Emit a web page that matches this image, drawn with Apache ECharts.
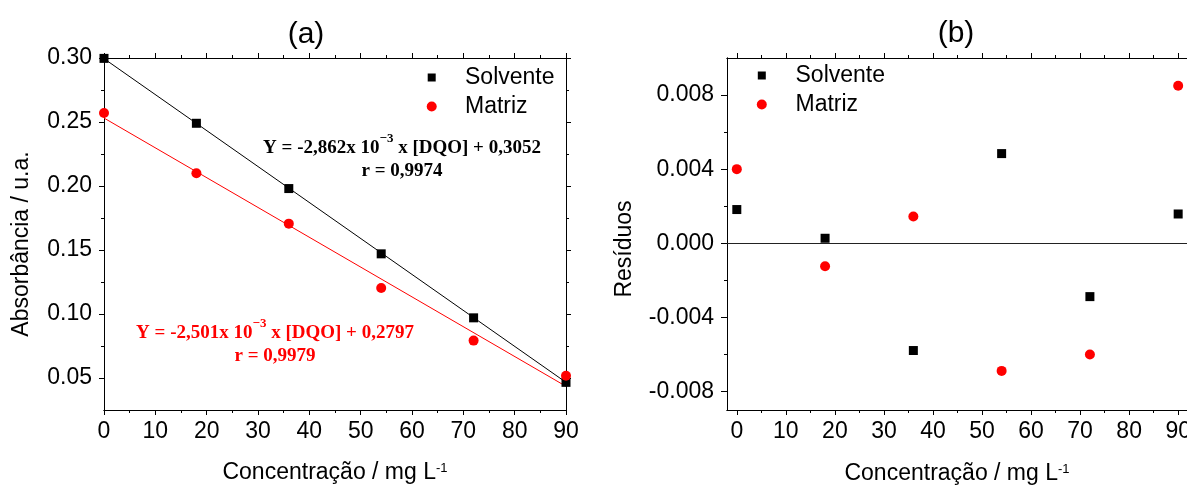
<!DOCTYPE html>
<html>
<head>
<meta charset="utf-8">
<script src="https://cdn.jsdelivr.net/npm/echarts@6/dist/echarts.min.js"></script>
<style>html,body{margin:0;padding:0;background:#fff}#c{width:1187px;height:488px}</style>
</head>
<body>
<div id="c"></div>
<script>
// ---- data ----
const concentracao = [0, 18, 36, 54, 72, 90];
const absSolvente = [0.2997, 0.249, 0.198, 0.147, 0.097, 0.0466];
const absMatriz = [0.257, 0.210, 0.1706, 0.1203, 0.0792, 0.0518];
const ajusteX = [0, 90];
const ajusteSolvente = [0.2995, 0.0466];
const ajusteMatriz = [0.2531, 0.0435];
const resSolvente = [0.00182, 0.00027, -0.00579, 0.00484, -0.00288, 0.00158];
const resMatriz = [0.0040, -0.00124, 0.00144, -0.00689, -0.0060, 0.0085];

// ---- ticks ----
const concTicks = [0, 10, 20, 30, 40, 50, 60, 70, 80, 90];
const concMinor = [5, 15, 25, 35, 45, 55, 65, 75, 85];
const absTicks = [0.05, 0.10, 0.15, 0.20, 0.25, 0.30];
const absMinor = [0.075, 0.125, 0.175, 0.225, 0.275];
const resTicks = [-0.008, -0.004, 0, 0.004, 0.008];
const resMinor = [-0.006, -0.002, 0.002, 0.006];

const eqSolvente = ['Y = -2,862x 10', '−3', ' x [DQO] + 0,3052', 'r = 0,9974'];
const eqMatriz = ['Y = -2,501x 10', '−3', ' x [DQO] + 0,2797', 'r = 0,9979'];

const SANS = "'Liberation Sans', Arial, Helvetica, sans-serif";
const SERIF = "'Liberation Serif', 'Times New Roman', serif";
const RED = '#ff0000';

function pairs(xs, ys) { return xs.map((x, i) => [x, ys[i]]); }

function axis(gridIndex, position, min, max, ticks, len, fmt, margin) {
  return {
    type: 'value', gridIndex, position, min, max,
    axisLine: { show: true, onZero: false, lineStyle: { color: '#000', width: 1 } },
    axisTick: { show: true, inside: false, length: len, customValues: ticks, lineStyle: { color: '#000', width: 1 } },
    axisLabel: fmt ? { show: true, customValues: ticks, formatter: fmt, fontSize: 23, fontFamily: SANS, color: '#000', margin: margin } : { show: false },
    splitLine: { show: false }, minorTick: { show: false }, minorSplitLine: { show: false }
  };
}

const fx = v => String(v);
const fyA = v => v.toFixed(2);
const fyB = v => v.toFixed(3);

const xAxes = [
  axis(0, 'bottom', 0, 90, concTicks, 5, fx, 10),
  axis(0, 'bottom', 0, 90, concMinor, 3),
  axis(0, 'top', 0, 90, concTicks, 5),
  axis(0, 'top', 0, 90, concMinor, 3),
  axis(1, 'bottom', -2, 91.8, concTicks, 5, fx, 10),
  axis(1, 'bottom', -2, 91.8, concMinor, 3),
  axis(1, 'top', -2, 91.8, concTicks, 5),
  axis(1, 'top', -2, 91.8, concMinor, 3)
];
const yAxes = [
  axis(0, 'left', 0.025, 0.30, absTicks, 5, fyA, 12),
  axis(0, 'left', 0.025, 0.30, absMinor, 3),
  axis(0, 'right', 0.025, 0.30, absTicks, 5),
  axis(0, 'right', 0.025, 0.30, absMinor, 3),
  axis(1, 'left', -0.009, 0.010, resTicks, 6, fyB, 13),
  axis(1, 'left', -0.009, 0.010, resMinor, 3)
];

// icon centre (cx, cy), text starts at tx
function legendItem(name, cx, cy, tx, h) {
  const left = cx - h / 2;
  const pad = tx - left - h - 5;
  return {
    data: [name], left: left, top: cy - 12, orient: 'vertical', padding: 0,
    itemWidth: h, itemHeight: h, selectedMode: false, symbolKeepAspect: true,
    textStyle: { fontSize: 23, fontFamily: SANS, color: '#000', padding: [0, 0, 0, pad] }
  };
}

function eqText(eq, cx, cy, color) {
  const base = { fontSize: 19, lineHeight: 25, fontWeight: 'bold', fontFamily: SERIF, fill: color, color: color, verticalAlign: 'bottom' };
  const sup = { fontSize: 13, fontWeight: 'bold', fontFamily: SERIF, fill: color, color: color, verticalAlign: 'top' };
  return [
    { type: 'text', x: cx, y: cy, silent: true,
      style: { text: '{m|' + eq[0] + '}{s|' + eq[1] + '}{m|' + eq[2] + '}', rich: { m: base, s: sup },
        align: 'center', verticalAlign: 'middle', fill: color } },
    { type: 'text', x: cx, y: cy + 26, silent: true,
      style: { text: eq[3], font: 'bold 19px ' + SERIF, align: 'center', verticalAlign: 'middle', fill: color } }
  ];
}

function xTitle(cx, cy) {
  return { type: 'text', x: cx, y: cy, silent: true,
    style: { text: '{a|Concentração / mg L}{s|-1}',
      rich: { a: { fontSize: 23, fontFamily: SANS, fill: '#000', verticalAlign: 'bottom' },
              s: { fontSize: 13, fontFamily: SANS, fill: '#000', verticalAlign: 'top' } },
      align: 'center', verticalAlign: 'middle', fill: '#000' } };
}
function yTitle(text, cx, cy) {
  return { type: 'text', x: cx, y: cy, rotation: Math.PI / 2, silent: true,
    style: { text: text, font: '23px ' + SANS, align: 'center', verticalAlign: 'middle', fill: '#000' } };
}
function panelTitle(text, cx, cy) {
  return { type: 'text', x: cx, y: cy, silent: true,
    style: { text: text, font: '30px ' + SANS, align: 'center', verticalAlign: 'middle', fill: '#000' } };
}

const option = {
  animation: false,
  backgroundColor: '#fff',
  grid: [
    { left: 104, top: 58, width: 462, height: 352, outerBoundsMode: 'none', containLabel: false },
    { left: 727, top: 58, width: 460, height: 352, outerBoundsMode: 'none', containLabel: false }
  ],
  xAxis: xAxes,
  yAxis: yAxes,
  legend: [
    legendItem('Solvente', 431.7, 78, 465, 8),
    legendItem('Matriz', 431.7, 107, 465, 10),
    legendItem('Solvente', 761.8, 76, 795.5, 8),
    legendItem('Matriz', 761.8, 105, 795.5, 10)
  ],
  series: [
    { name: 'Ajuste Solvente', type: 'line', xAxisIndex: 0, yAxisIndex: 0, data: pairs(ajusteX, ajusteSolvente),
      showSymbol: false, symbol: 'none', lineStyle: { color: '#000', width: 1 }, z: 2, silent: true },
    { name: 'Ajuste Matriz', type: 'line', xAxisIndex: 0, yAxisIndex: 0, data: pairs(ajusteX, ajusteMatriz),
      showSymbol: false, symbol: 'none', lineStyle: { color: RED, width: 1 }, z: 2, silent: true },
    { name: 'Solvente', type: 'scatter', xAxisIndex: 0, yAxisIndex: 0, data: pairs(concentracao, absSolvente),
      symbol: 'rect', symbolSize: 9, symbolKeepAspect: true, itemStyle: { color: '#000', opacity: 1 }, z: 3 },
    { name: 'Matriz', type: 'scatter', xAxisIndex: 0, yAxisIndex: 0, data: pairs(concentracao, absMatriz),
      symbol: 'circle', symbolSize: 10, symbolKeepAspect: true, itemStyle: { color: RED, opacity: 1 }, z: 3 },
    { name: 'Solvente', type: 'scatter', xAxisIndex: 4, yAxisIndex: 4, data: pairs(concentracao, resSolvente),
      symbol: 'rect', symbolSize: 9, symbolKeepAspect: true, itemStyle: { color: '#000', opacity: 1 }, z: 3,
      markLine: { silent: true, symbol: 'none', label: { show: false },
        lineStyle: { color: '#222', width: 1, type: 'solid' }, data: [{ yAxis: 0 }] } },
    { name: 'Matriz', type: 'scatter', xAxisIndex: 4, yAxisIndex: 4, data: pairs(concentracao, resMatriz),
      symbol: 'circle', symbolSize: 10, symbolKeepAspect: true, itemStyle: { color: RED, opacity: 1 }, z: 3 }
  ],
  graphic: [
    panelTitle('(a)', 306, 35),
    panelTitle('(b)', 956, 34),
    yTitle('Absorbância / u.a.', 22, 244),
    yTitle('Resíduos', 625, 249),
    xTitle(335, 473),
    xTitle(957, 474),
    ...eqText(eqSolvente, 402, 145, '#000'),
    ...eqText(eqMatriz, 275, 330, RED)
  ]
};

const chart = echarts.init(document.getElementById('c'), null, { renderer: 'canvas' });
chart.setOption(option);
</script>
</body>
</html>
